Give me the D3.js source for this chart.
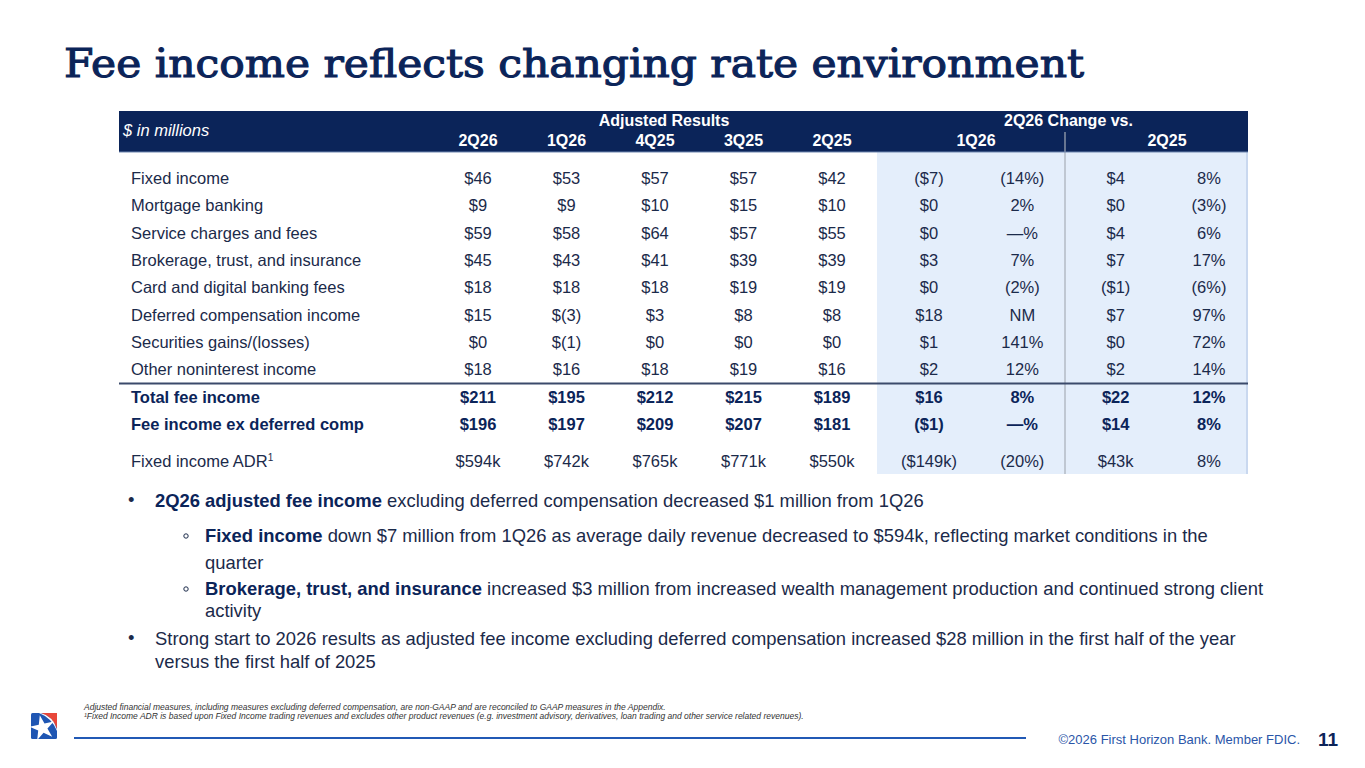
<!DOCTYPE html>
<html><head><meta charset="utf-8">
<script src="https://cdn.jsdelivr.net/npm/d3@7/dist/d3.min.js"></script>
<style>html,body{margin:0;padding:0;background:#fff;}svg{display:block;}</style>
</head><body>
<script>
// ---------- DATA ----------
const title = "Fee income reflects changing rate environment";
const adjCols = ["2Q26","1Q26","4Q25","3Q25","2Q25"];
const chgGroups = ["1Q26","2Q25"];
const chgCols = ["1Q26 $","1Q26 %","2Q25 $","2Q25 %"];
const rowLabels = ["Fixed income","Mortgage banking","Service charges and fees","Brokerage, trust, and insurance","Card and digital banking fees","Deferred compensation income","Securities gains/(losses)","Other noninterest income","Total fee income","Fee income ex deferred comp","Fixed income ADR"];
const boldRows = [false,false,false,false,false,false,false,false,true,true,false];
const v2Q26 = ["$46","$9","$59","$45","$18","$15","$0","$18","$211","$196","$594k"];
const v1Q26 = ["$53","$9","$58","$43","$18","$(3)","$(1)","$16","$195","$197","$742k"];
const v4Q25 = ["$57","$10","$64","$41","$18","$3","$0","$18","$212","$209","$765k"];
const v3Q25 = ["$57","$15","$57","$39","$19","$8","$0","$19","$215","$207","$771k"];
const v2Q25 = ["$42","$10","$55","$39","$19","$8","$0","$16","$189","$181","$550k"];
const chgQDollar = ["($7)","$0","$0","$3","$0","$18","$1","$2","$16","($1)","($149k)"];
const chgQPct = ["(14%)","2%","—%","7%","(2%)","NM","141%","12%","8%","—%","(20%)"];
const chgYDollar = ["$4","$0","$4","$7","($1)","$7","$0","$2","$22","$14","$43k"];
const chgYPct = ["8%","(3%)","6%","17%","(6%)","97%","72%","14%","12%","8%","8%"];
const bullets = [
  {level:0, lines:[[{b:true,t:"2Q26 adjusted fee income"},{b:false,t:" excluding deferred compensation decreased $1 million from 1Q26"}]]},
  {level:1, lines:[[{b:true,t:"Fixed income"},{b:false,t:" down $7 million from 1Q26 as average daily revenue decreased to $594k, reflecting market conditions in the"}],[{b:false,t:"quarter"}]]},
  {level:1, lines:[[{b:true,t:"Brokerage, trust, and insurance"},{b:false,t:" increased $3 million from increased wealth management production and continued strong client"}],[{b:false,t:"activity"}]]},
  {level:0, lines:[[{b:false,t:"Strong start to 2026 results as adjusted fee income excluding deferred compensation increased $28 million in the first half of the year"}],[{b:false,t:"versus the first half of 2025"}]]}
];
const footnotes = [
  "Adjusted financial measures, including measures excluding deferred compensation, are non-GAAP and are reconciled to GAAP measures in the Appendix.",
  "¹Fixed Income ADR is based upon Fixed Income trading revenues and excludes other product revenues (e.g. investment advisory, derivatives, loan trading and other service related revenues)."
];
const copyright = "©2026 First Horizon Bank. Member FDIC.";
const pageNum = "11";

// ---------- LAYOUT ----------
const W = 1365, H = 768;
const NAVY = "#0b2459", TXT = "#1b2a4a", LIGHT = "#e4eefb";
const FONT = "'Liberation Sans', Arial, sans-serif";
const svg = d3.select("body").append("svg").attr("width", W).attr("height", H);

// Title
svg.append("text").attr("x", 64).attr("y", 77)
  .attr("font-family", "'DejaVu Serif', serif").attr("font-size", 39).attr("fill", NAVY)
  .attr("stroke", NAVY).attr("stroke-width", 1.1)
  .attr("textLength", 1020).attr("lengthAdjust", "spacingAndGlyphs").text(title);

// Table geometry
const tL = 119, tR = 1248, hTop = 111, hBot = 152, blueL = 877, sepX = 1065;
const xAdj = d3.scalePoint().domain(adjCols).range([478, 832]);
const xChg = d3.scalePoint().domain(chgCols).range([929, 1209]);
const xGrp = d3.scalePoint().domain(chgGroups).range([976, 1167]);
const rowIdx = d3.range(rowLabels.length);
const yRow = d3.scaleLinear().domain([0, 9]).range([178, 424]);
const rowY = i => i < 10 ? yRow(i) : yRow(9) + 37;
const tBot = rowY(10) + 13;

svg.append("rect").attr("x", blueL).attr("y", hBot).attr("width", tR - blueL).attr("height", tBot - hBot).attr("fill", LIGHT);
svg.append("line").attr("x1", tR - 1).attr("x2", tR - 1).attr("y1", hBot).attr("y2", tBot).attr("stroke", "#c9d8ef").attr("stroke-width", 2);
svg.append("rect").attr("x", tL).attr("y", hTop).attr("width", tR - tL).attr("height", hBot - hTop).attr("fill", NAVY);
svg.append("line").attr("x1", sepX).attr("x2", sepX).attr("y1", 132).attr("y2", tBot).attr("stroke", "#a7adb8").attr("stroke-width", 1.2);
svg.append("line").attr("x1", tL).attr("x2", tR).attr("y1", hBot).attr("y2", hBot).attr("stroke", "#6f86b0").attr("stroke-width", 1);

// header text
const hdr = svg.append("g").attr("font-family", FONT).attr("fill", "#fff").attr("font-size", 16);
hdr.append("text").attr("x", 123).attr("y", 136).attr("font-style", "italic").attr("font-size", 16.5).text("$ in millions");
hdr.append("text").attr("x", (xAdj("2Q26") + xAdj("2Q25")) / 2 + 9).attr("y", 126).attr("text-anchor", "middle").attr("font-weight", "bold").text("Adjusted Results");
hdr.append("text").attr("x", (xGrp("1Q26") + xGrp("2Q25")) / 2 - 3).attr("y", 126).attr("text-anchor", "middle").attr("font-weight", "bold").text("2Q26 Change vs.");
hdr.selectAll("text.ac").data(adjCols).join("text").attr("class", "ac")
  .attr("x", d => xAdj(d)).attr("y", 146).attr("text-anchor", "middle").attr("font-weight", "bold").text(d => d);
hdr.selectAll("text.gc").data(chgGroups).join("text").attr("class", "gc")
  .attr("x", d => xGrp(d)).attr("y", 146).attr("text-anchor", "middle").attr("font-weight", "bold").text(d => d);

// rule above totals
const ruleY = (rowY(7) + rowY(8)) / 2 + 0.5;
svg.append("line").attr("x1", tL).attr("x2", tR).attr("y1", ruleY).attr("y2", ruleY)
  .attr("stroke", "#3b4a6b").attr("stroke-width", 1.8);

// body rows
const colData = [
  {x: xAdj("2Q26"), v: v2Q26}, {x: xAdj("1Q26"), v: v1Q26}, {x: xAdj("4Q25"), v: v4Q25},
  {x: xAdj("3Q25"), v: v3Q25}, {x: xAdj("2Q25"), v: v2Q25},
  {x: xChg("1Q26 $"), v: chgQDollar}, {x: xChg("1Q26 %"), v: chgQPct},
  {x: xChg("2Q25 $"), v: chgYDollar}, {x: xChg("2Q25 %"), v: chgYPct}
];
const body = svg.append("g").attr("font-family", FONT).attr("font-size", 16.5);
const rows = body.selectAll("g.row").data(rowIdx).join("g").attr("class", "row")
  .attr("transform", i => `translate(0,${rowY(i) + 6})`)
  .attr("fill", i => boldRows[i] ? NAVY : TXT)
  .attr("font-weight", i => boldRows[i] ? "bold" : "normal");
rows.append("text").attr("x", 131).each(function(i) {
  const t = d3.select(this).text(rowLabels[i]);
  if (i === 10) t.append("tspan").attr("font-size", 10).attr("dy", -6).text("1");
});
colData.forEach(c => {
  rows.append("text").attr("x", c.x).attr("text-anchor", "middle").text(i => c.v[i]);
});

// bullets
const bl = svg.append("g").attr("font-family", FONT).attr("font-size", 18.4).attr("fill", TXT);
const lineYs = [[500], [535, 562], [588, 610], [638, 661]];
bullets.forEach((b, bi) => {
  const tx = b.level === 0 ? 155 : 205;
  if (b.level === 0) {
    bl.append("text").attr("x", 128).attr("y", lineYs[bi][0] + 6).text("•");
  } else {
    bl.append("circle").attr("cx", 186).attr("cy", lineYs[bi][0] + 1).attr("r", 2.2)
      .attr("fill", "none").attr("stroke", TXT).attr("stroke-width", 1);
  }
  b.lines.forEach((ln, li) => {
    const t = bl.append("text").attr("x", tx).attr("y", lineYs[bi][li] + 6.5);
    t.selectAll("tspan").data(ln).join("tspan")
      .attr("font-weight", d => d.b ? "bold" : "normal").attr("fill", d => d.b ? NAVY : TXT).text(d => d.t);
  });
});

// footnotes
svg.append("g").attr("font-family", FONT).attr("font-size", 8.5).attr("font-style", "italic").attr("fill", "#333")
  .selectAll("text").data(footnotes).join("text").attr("x", 84).attr("y", (d, i) => 710 + i * 8.6).text(d => d);

// footer
svg.append("line").attr("x1", 74).attr("x2", 1026).attr("y1", 738).attr("y2", 738).attr("stroke", "#2159b5").attr("stroke-width", 2.2);
svg.append("text").attr("x", 1300).attr("y", 744).attr("text-anchor", "end").attr("font-family", FONT).attr("font-size", 13).attr("fill", "#2a55a8").text(copyright);
svg.append("text").attr("x", 1338).attr("y", 746).attr("text-anchor", "end").attr("font-family", FONT).attr("font-size", 19).attr("font-weight", "bold").attr("fill", NAVY).text(pageNum);

// logo
const lg = svg.append("g").attr("transform", "translate(31,713)");
lg.append("rect").attr("width", 26).attr("height", 26).attr("rx", 1.5).attr("fill", "#1f56b3");
lg.append("path").attr("d", "M10,0 L26,0 L26,16 Q22,4 10,0 Z").attr("fill", "#e8473a");
lg.append("path").attr("d", "M9.5,0 Q22,3 26,16.5 L26,18 Q21,5 8,0 Z").attr("fill", "#fff");
const star = d3.symbol().type(d3.symbolStar).size(190)();
lg.append("path").attr("d", star).attr("transform", "translate(11.5,15) rotate(-12)").attr("fill", "#fff");
</script>
</body></html>
